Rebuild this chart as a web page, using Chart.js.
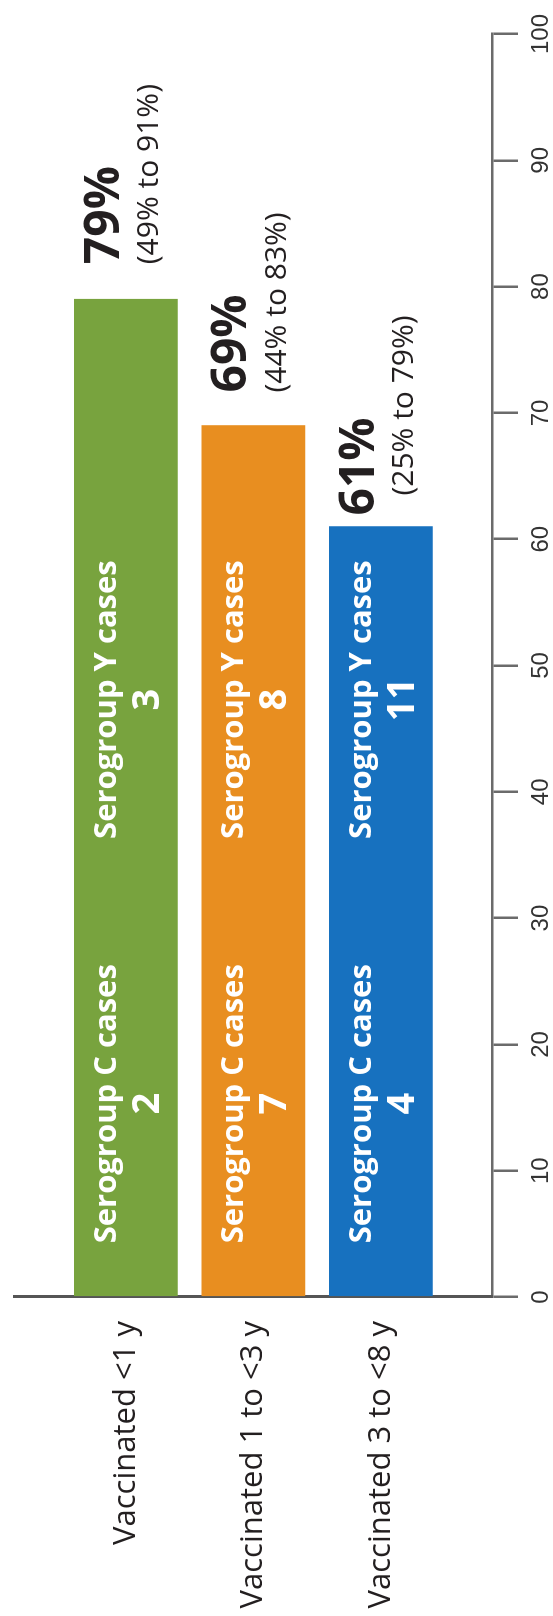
<!DOCTYPE html>
<html>
<head>
<meta charset="utf-8">
<title>Vaccine effectiveness by time since vaccination</title>
<script src="https://cdn.jsdelivr.net/npm/chart.js@4.4.1/dist/chart.umd.min.js"></script>
<style>
  html, body { margin: 0; padding: 0; background: #fff; overflow: hidden; }
  /* the chart is laid out as a horizontal bar chart and turned a quarter turn */
  #wrap {
    position: absolute; left: 0; top: 0;
    width: 1616px; height: 553px;
    transform-origin: 0 0;
    transform: translate(0, 1616px) rotate(-90deg);
  }
</style>
</head>
<body>
<div id="wrap"><canvas id="veChart" width="1616" height="553"></canvas></div>
<script>
const categories = ["Vaccinated <1 y", "Vaccinated 1 to <3 y", "Vaccinated 3 to <8 y"];
const effectiveness = [79, 69, 61];
const ciLow = [49, 44, 25];
const ciHigh = [91, 83, 79];
const serogroupC = [2, 7, 4];
const serogroupY = [3, 8, 11];
const valueTicks = [0, 10, 20, 30, 40, 50, 60, 70, 80, 90, 100];

const barColors = ["#78a33e", "#e88e20", "#1771bf"];
const axisColor = "#6b6b6b";
const textColor = "#231f20";

// text drawn on and beside each bar
const barText = {
  id: "barText",
  afterDatasetsDraw(chart) {
    const ctx = chart.ctx;
    const xs = chart.scales.x;
    const meta = chart.getDatasetMeta(0);
    const bigGap = [35, 33, 11];
    const smallGap = [35, 33, 31];
    ctx.save();
    meta.data.forEach((bar, i) => {
      ctx.fillStyle = "#fff";
      ctx.textAlign = "center";
      ctx.textBaseline = "middle";
      [["Serogroup C cases", serogroupC[i], 15.3], ["Serogroup Y cases", serogroupY[i], 47.3]].forEach(([label, n, at]) => {
        const cx = xs.getPixelForValue(at);
        ctx.font = 'bold 31px "Open Sans"';
        ctx.fillText(label, cx, bar.y - 19);
        ctx.font = 'bold 38px "Open Sans"';
        ctx.fillText(String(n), cx, bar.y + 22);
      });

      ctx.fillStyle = textColor;
      ctx.textAlign = "left";
      ctx.font = 'bold 48px "Open Sans"';
      ctx.fillText(effectiveness[i] + "%", bar.x + bigGap[i], bar.y - 21);
      ctx.font = '30px "Open Sans"';
      ctx.fillText("(" + ciLow[i] + "% to " + ciHigh[i] + "%)", bar.x + smallGap[i], bar.y + 24);
    });
    ctx.restore();
  }
};

new Chart(document.getElementById("veChart"), {
  type: "bar",
  data: {
    datasets: [{
      data: effectiveness.map((v, i) => ({ x: v, y: i })),
      backgroundColor: barColors,
      borderWidth: 0,
      barThickness: 103
    }]
  },
  options: {
    indexAxis: "y",
    responsive: false,
    animation: false,
    layout: { padding: { top: 14, right: 34, left: 0, bottom: 0 } },
    plugins: { legend: { display: false }, tooltip: { enabled: false } },
    scales: {
      x: {
        type: "linear",
        position: "bottom",
        min: 0,
        max: 100,
        afterBuildTicks: (axis) => { axis.ticks = valueTicks.map((v) => ({ value: v })); },
        afterFit: (axis) => { axis.height = 61; },
        ticks: {
          padding: 9,
          maxRotation: 0,
          color: "#333",
          font: { family: "Liberation Sans", size: 24 }
        },
        grid: { drawOnChartArea: false, tickLength: 26, color: axisColor, lineWidth: 2.5 },
        border: { color: axisColor, width: 2.5 }
      },
      y: {
        type: "linear",
        reverse: true,
        offset: false,
        min: -0.878,
        max: 2.871,
        afterBuildTicks: (axis) => { axis.ticks = categories.map((c, i) => ({ value: i })); },
        afterFit: (axis) => {
          axis.width = 319;
          axis.paddingTop = 0;
          axis.paddingBottom = 0;
        },
        ticks: {
          padding: 24,
          color: textColor,
          font: { family: "Open Sans", size: 31 },
          callback: (v) => categories[v]
        },
        grid: { drawOnChartArea: false, drawTicks: false, offset: false },
        border: { color: "#555", width: 3 }
      }
    }
  },
  plugins: [barText]
});
</script>
</body>
</html>
